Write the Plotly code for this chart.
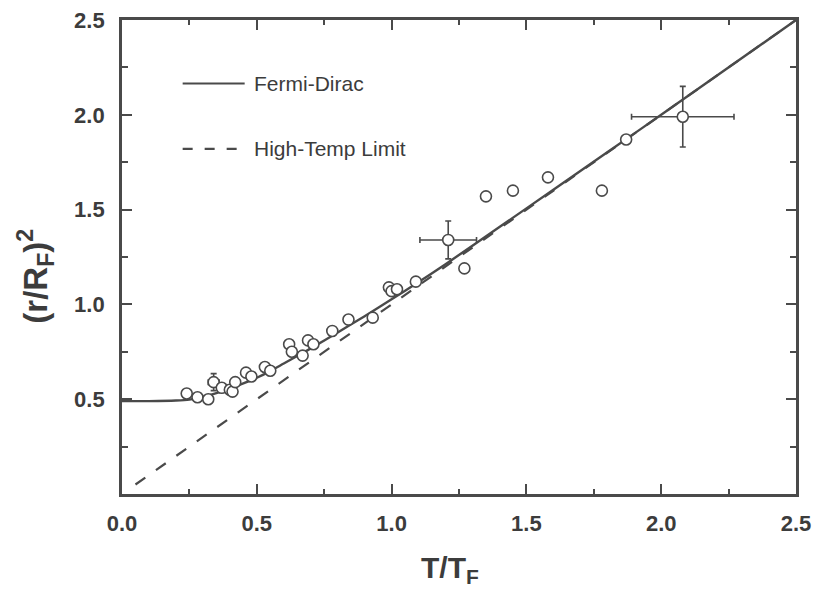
import plotly.graph_objects as go

# Measured data (open circles)
data_x = [0.24, 0.28, 0.32, 0.37, 0.40, 0.41, 0.42, 0.46, 0.48, 0.53, 0.55,
          0.62, 0.63, 0.67, 0.69, 0.71, 0.78, 0.84, 0.93, 0.99, 1.00, 1.02,
          1.09, 1.27, 1.35, 1.45, 1.58, 1.78, 1.87]
data_y = [0.53, 0.51, 0.50, 0.56, 0.55, 0.54, 0.59, 0.64, 0.62, 0.67, 0.65,
          0.79, 0.75, 0.73, 0.81, 0.79, 0.86, 0.92, 0.93, 1.09, 1.07, 1.08,
          1.12, 1.19, 1.57, 1.60, 1.67, 1.60, 1.87]

# Points with error bars
err_x = [0.34, 1.21, 2.08]
err_y = [0.59, 1.34, 1.99]
err_dx = [0.02, 0.105, 0.19]
err_dy = [0.045, 0.10, 0.16]

# Fermi-Dirac curve
fd_x = [0.0, 0.1, 0.2, 0.25, 0.3, 0.35, 0.4, 0.45, 0.5, 0.55, 0.6, 0.65, 0.7,
        0.8, 0.9, 1.0, 1.1, 1.2, 1.4, 1.6, 1.8, 2.0, 2.5]
fd_y = [0.49, 0.49, 0.493, 0.498, 0.512, 0.532, 0.556, 0.583, 0.613, 0.648,
        0.688, 0.728, 0.768, 0.852, 0.938, 1.027, 1.118, 1.212, 1.408, 1.605,
        1.803, 2.0, 2.5]

# High-temperature limit
ht_x = [0.05, 2.5]
ht_y = [0.05, 2.5]

x_ticks = [0.0, 0.5, 1.0, 1.5, 2.0, 2.5]
y_ticks = [0.5, 1.0, 1.5, 2.0, 2.5]

LINE = "#4a4a4a"
TEXT = "#3c3c3c"
FONT = "Liberation Sans, Arial, sans-serif"

fig = go.Figure()
fig.add_trace(go.Scatter(x=ht_x, y=ht_y, mode="lines",
                         line=dict(color=LINE, width=2.2, dash="12px,13px"),
                         showlegend=False, hoverinfo="skip"))
fig.add_trace(go.Scatter(x=fd_x, y=fd_y, mode="lines",
                         line=dict(color=LINE, width=2.4, shape="spline", smoothing=0.8),
                         showlegend=False, hoverinfo="skip"))
fig.add_trace(go.Scatter(x=err_x, y=err_y, mode="markers",
                         marker=dict(symbol="circle", size=11, color="white",
                                     line=dict(color=LINE, width=1.6)),
                         error_x=dict(type="data", array=err_dx, color=LINE, thickness=1.6, width=3),
                         error_y=dict(type="data", array=err_dy, color=LINE, thickness=1.6, width=3),
                         showlegend=False))
fig.add_trace(go.Scatter(x=data_x, y=data_y, mode="markers",
                         marker=dict(symbol="circle", size=11, color="white",
                                     line=dict(color=LINE, width=1.6)),
                         showlegend=False))

# Legend (drawn manually)
fig.add_shape(type="line", xref="paper", yref="paper", x0=0.09, x1=0.182, y0=0.866, y1=0.866,
              line=dict(color=LINE, width=2.2))
fig.add_shape(type="line", xref="paper", yref="paper", x0=0.09, x1=0.182, y0=0.728, y1=0.728,
              line=dict(color=LINE, width=2.2, dash="10px,12px"))
fig.add_annotation(xref="paper", yref="paper", x=0.193, y=0.866, text="Fermi-Dirac",
                   showarrow=False, xanchor="left", yanchor="middle",
                   font=dict(family=FONT, size=21, color=TEXT))
fig.add_annotation(xref="paper", yref="paper", x=0.193, y=0.728, text="High-Temp Limit",
                   showarrow=False, xanchor="left", yanchor="middle",
                   font=dict(family=FONT, size=21, color=TEXT))

# Axis titles
fig.add_annotation(xref="paper", yref="paper", x=0.487, y=-0.16, text="<b>T/T<sub>F</sub></b>",
                   showarrow=False, xanchor="center", yanchor="middle",
                   font=dict(family=FONT, size=30, color=TEXT))
fig.add_annotation(xref="paper", yref="paper", x=-0.128, y=0.46,
                   text="<b>(r/R<sub>F</sub>)<sup>2</sup></b>", textangle=-90,
                   showarrow=False, xanchor="center", yanchor="middle",
                   font=dict(family=FONT, size=33, color=TEXT))

axis_common = dict(showline=True, linecolor=LINE, linewidth=2.8, mirror="ticks",
                   ticks="inside", ticklen=10, tickwidth=2, tickcolor=LINE,
                   showgrid=False, zeroline=False, automargin=False,
                   ticklabeloverflow="allow",
                   tickfont=dict(family=FONT, size=22, color=TEXT, weight="bold"))

fig.update_xaxes(range=[0, 2.5], tickvals=x_ticks,
                 ticktext=[f"{v:.1f}" for v in x_ticks],
                 minor=dict(dtick=0.25, ticks="inside", ticklen=5, tickwidth=2, tickcolor=LINE),
                 ticklabelstandoff=8,
                 **axis_common)
fig.update_yaxes(range=[0, 2.5], tickvals=y_ticks,
                 ticktext=[f"{v:.1f}" for v in y_ticks],
                 minor=dict(dtick=0.25, ticks="inside", ticklen=6, tickwidth=2, tickcolor=LINE),
                 ticklabelstandoff=10,
                 **axis_common)

# The page body adds an 8px margin on every side; keep the page free of scrollbars.
fig.update_layout(width=804, height=583,
                  margin=dict(l=114, r=16, t=12, b=97, autoexpand=False),
                  paper_bgcolor="white", plot_bgcolor="white",
                  showlegend=False)

fig.write_html("out.html")
